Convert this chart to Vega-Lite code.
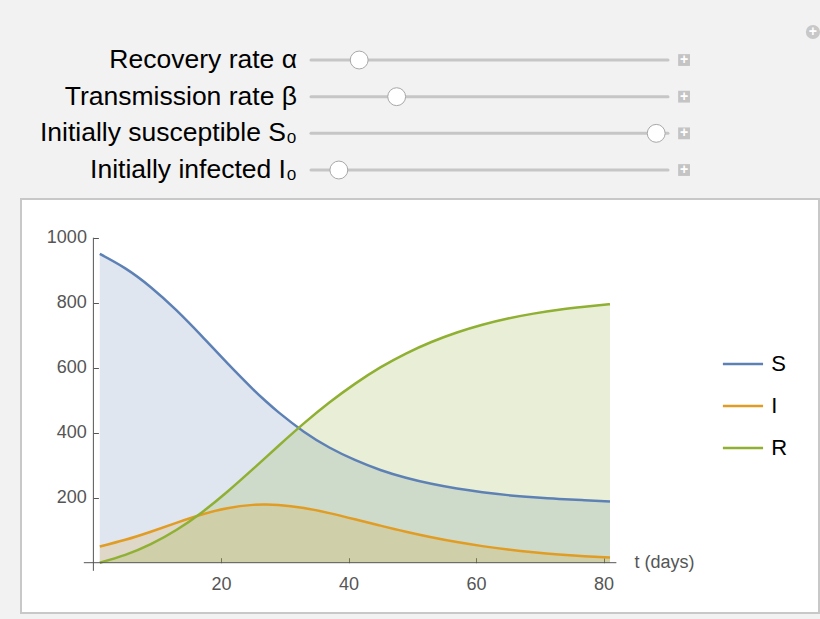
{
  "$schema": "https://vega.github.io/schema/vega-lite/v6.json",
  "background": "#f2f2f2",
  "padding": {"left": 20, "top": 10, "right": 2, "bottom": 7},
  "spacing": 8,
  "config": {"font": "Liberation Sans", "view": {"stroke": null}},
  "datasets": {
    "sliders": [
      {"row": 1, "label": "Recovery rate α", "value": 0.135},
      {"row": 2, "label": "Transmission rate β", "value": 0.24},
      {"row": 3, "label": "Initially susceptible S₀", "value": 0.967},
      {"row": 4, "label": "Initially infected I₀", "value": 0.078}
    ],
    "sir": [
      {"t": 1, "S": 950.0, "I": 50.0, "R": 0.0},
      {"t": 5, "S": 905.6, "I": 70.5, "R": 23.9},
      {"t": 9, "S": 847.7, "I": 95.3, "R": 57.0},
      {"t": 13, "S": 777.0, "I": 122.5, "R": 100.5},
      {"t": 17, "S": 697.1, "I": 148.1, "R": 154.8},
      {"t": 21, "S": 614.1, "I": 167.7, "R": 218.2},
      {"t": 25, "S": 534.4, "I": 177.9, "R": 287.7},
      {"t": 27, "S": 497.5, "I": 179.1, "R": 323.4},
      {"t": 29, "S": 463.2, "I": 177.7, "R": 359.1},
      {"t": 33, "S": 403.1, "I": 168.3, "R": 428.6},
      {"t": 37, "S": 354.5, "I": 152.6, "R": 492.9},
      {"t": 41, "S": 316.1, "I": 133.7, "R": 550.2},
      {"t": 45, "S": 285.3, "I": 114.0, "R": 600.8},
      {"t": 49, "S": 261.3, "I": 95.1, "R": 643.5},
      {"t": 53, "S": 242.7, "I": 78.2, "R": 679.1},
      {"t": 57, "S": 228.2, "I": 63.4, "R": 708.4},
      {"t": 61, "S": 216.9, "I": 51.0, "R": 732.2},
      {"t": 65, "S": 207.9, "I": 40.7, "R": 751.4},
      {"t": 69, "S": 201.3, "I": 32.3, "R": 766.4},
      {"t": 73, "S": 196.1, "I": 25.5, "R": 778.4},
      {"t": 77, "S": 192.4, "I": 20.1, "R": 787.5},
      {"t": 81, "S": 188.6, "I": 15.8, "R": 795.6}
    ]
  },
  "vconcat": [
    {
      "width": 798,
      "height": 180,
      "data": {"name": "sliders"},
      "layer": [
        {
          "mark": {"type": "rule", "color": "#c6c6c6", "strokeWidth": 3, "strokeCap": "round"},
          "encoding": {
            "x": {"datum": 0, "type": "quantitative", "scale": {"domain": [-0.8123, 1.423], "nice": false, "zero": false}, "axis": null},
            "x2": {"datum": 1},
            "y": {"field": "row", "type": "quantitative", "scale": {"domain": [-0.364, 4.545], "reverse": true, "nice": false, "zero": false}, "axis": null}
          }
        },
        {
          "mark": {"type": "point", "filled": true, "fill": "white", "stroke": "#a8a8a8", "strokeWidth": 1, "size": 320, "opacity": 1},
          "encoding": {
            "x": {"field": "value", "type": "quantitative"},
            "y": {"field": "row", "type": "quantitative"}
          }
        },
        {
          "mark": {"type": "square", "color": "#c4c4c4", "size": 140, "opacity": 1},
          "encoding": {
            "x": {"datum": 1.045},
            "y": {"field": "row", "type": "quantitative"}
          }
        },
        {
          "mark": {"type": "text", "text": "+", "color": "white", "fontSize": 14, "fontWeight": "bold"},
          "encoding": {
            "x": {"datum": 1.045},
            "y": {"field": "row", "type": "quantitative"}
          }
        },
        {
          "mark": {"type": "text", "align": "right", "baseline": "middle", "dx": -14, "fontSize": 26.5, "color": "black"},
          "encoding": {
            "x": {"datum": 0},
            "y": {"field": "row", "type": "quantitative"},
            "text": {"field": "label"}
          }
        },
        {
          "data": {"values": [{"k": 1}]},
          "mark": {"type": "circle", "color": "#c8c8c8", "size": 200, "opacity": 1},
          "encoding": {"x": {"datum": 1.406}, "y": {"datum": 0.236}}
        },
        {
          "data": {"values": [{"k": 1}]},
          "mark": {"type": "text", "text": "+", "color": "white", "fontSize": 14, "fontWeight": "bold"},
          "encoding": {"x": {"datum": 1.406}, "y": {"datum": 0.236}}
        }
      ]
    },
    {
      "width": 798,
      "height": 414,
      "view": {"fill": "white", "stroke": "#c8c8c8", "strokeWidth": 2},
      "data": {"name": "sir"},
      "layer": [
        {
          "transform": [{"fold": ["S", "I", "R"], "as": ["grp", "v"]}],
          "mark": {"type": "area", "opacity": 0.2, "interpolate": "natural"},
          "encoding": {
            "x": {
              "field": "t", "type": "quantitative",
              "scale": {"domain": [-11.35, 113.77], "nice": false, "zero": false},
              "axis": {"orient": "top", "values": [20, 40, 60, 80], "domain": false, "grid": false, "offset": -363.7, "tickSize": 5, "tickColor": "#555555", "labelFontSize": 18, "labelColor": "#555555", "labelBaseline": "top", "labelPadding": -18, "title": "t (days)", "titleX": 613, "titleY": 0, "titleAlign": "left", "titleBaseline": "middle", "titleAngle": 0, "titleFontSize": 18, "titleFontWeight": "normal", "titleColor": "#555555"}
            },
            "y": {
              "field": "v", "type": "quantitative", "stack": null,
              "scale": {"domain": [-154.8, 1119.1], "nice": false, "zero": false},
              "axis": {"orient": "right", "values": [200, 400, 600, 800, 1000], "format": "d", "domain": false, "grid": false, "offset": -725.6, "tickSize": 5, "tickColor": "#555555", "labelFontSize": 18, "labelColor": "#555555", "labelAlign": "right", "labelPadding": -12, "title": null}
            },
            "y2": {"datum": 0},
            "fill": {"field": "grp", "type": "nominal", "scale": {"domain": ["S", "I", "R"], "range": ["#5e81b5", "#e19c24", "#8fb032"]}, "legend": null}
          }
        },
        {
          "transform": [{"fold": ["S", "I", "R"], "as": ["series", "value"]}],
          "mark": {"type": "line", "strokeWidth": 2.5, "interpolate": "natural"},
          "encoding": {
            "x": {"field": "t", "type": "quantitative"},
            "y": {"field": "value", "type": "quantitative"},
            "color": {
              "field": "series", "type": "nominal",
              "scale": {"domain": ["S", "I", "R"], "range": ["#5e81b5", "#e19c24", "#8fb032"]},
              "legend": null
            }
          }
        },
        {
          "data": {"values": [{"k": 1}]},
          "mark": {"type": "rule", "color": "#555555", "strokeWidth": 1},
          "encoding": {"x": {"datum": -1.5}, "x2": {"datum": 82}, "y": {"datum": 0}}
        },
        {
          "data": {"values": [{"k": 1}]},
          "mark": {"type": "rule", "color": "#555555", "strokeWidth": 1},
          "encoding": {"x": {"datum": 0}, "y": {"datum": -25}, "y2": {"datum": 1000}}
        },
        {
          "data": {"values": [{"series": "S"}]},
          "mark": {"type": "rule", "strokeWidth": 2.5},
          "encoding": {"x": {"datum": 98.7}, "x2": {"datum": 105.0}, "y": {"datum": 611.4}, "color": {"field": "series", "type": "nominal", "legend": null}}
        },
        {
          "data": {"values": [{"series": "I"}]},
          "mark": {"type": "rule", "strokeWidth": 2.5},
          "encoding": {"x": {"datum": 98.7}, "x2": {"datum": 105.0}, "y": {"datum": 482.2}, "color": {"field": "series", "type": "nominal", "legend": null}}
        },
        {
          "data": {"values": [{"series": "R"}]},
          "mark": {"type": "rule", "strokeWidth": 2.5},
          "encoding": {"x": {"datum": 98.7}, "x2": {"datum": 105.0}, "y": {"datum": 352.9}, "color": {"field": "series", "type": "nominal", "legend": null}}
        },
        {
          "data": {"values": [{"series": "S"}]},
          "mark": {"type": "text", "align": "left", "baseline": "middle", "fontSize": 22, "color": "black"},
          "encoding": {"x": {"datum": 106.3}, "y": {"datum": 611.4}, "text": {"field": "series"}}
        },
        {
          "data": {"values": [{"series": "I"}]},
          "mark": {"type": "text", "align": "left", "baseline": "middle", "fontSize": 22, "color": "black"},
          "encoding": {"x": {"datum": 106.3}, "y": {"datum": 482.2}, "text": {"field": "series"}}
        },
        {
          "data": {"values": [{"series": "R"}]},
          "mark": {"type": "text", "align": "left", "baseline": "middle", "fontSize": 22, "color": "black"},
          "encoding": {"x": {"datum": 106.3}, "y": {"datum": 352.9}, "text": {"field": "series"}}
        }
      ]
    }
  ]
}
